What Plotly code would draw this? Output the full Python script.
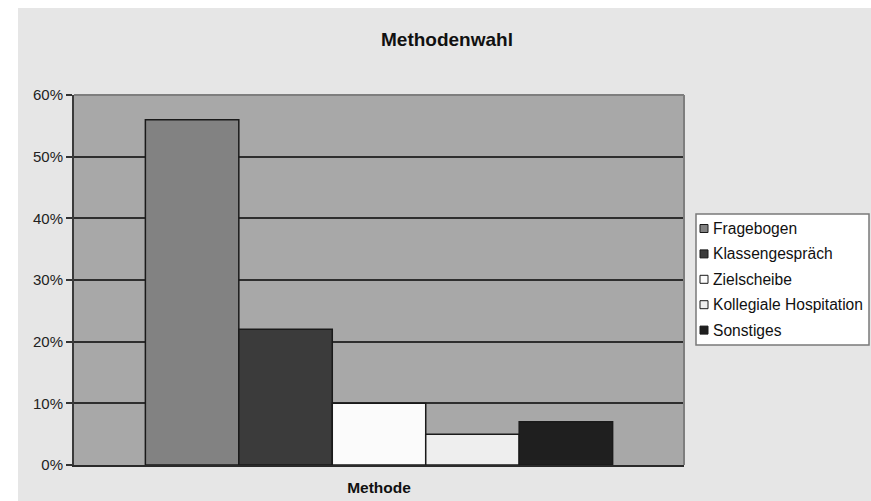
import plotly.graph_objects as go

# ---- data ----
categories = ["Fragebogen", "Klassengespräch", "Zielscheibe", "Kollegiale Hospitation", "Sonstiges"]
values = [56, 22, 10, 5, 7]          # percent
group_label = ["Methode"]
colors = ["#828282", "#3b3b3b", "#fbfbfb", "#eeeeee", "#1f1f1f"]
y_ticks = [0, 10, 20, 30, 40, 50, 60]
y_tick_labels = [f"{v}%" for v in y_ticks]

# ---- layout geometry (pixels) ----
W, H = 871, 501
L, R, T, B = 74, 187, 95, 36
PW, PH = W - L - R, H - T - B

def px_x(px):
    return (px - L) / PW

def px_y(py):
    return (H - B - py) / PH

fig = go.Figure()
for name, val, col in zip(categories, values, colors):
    fig.add_trace(go.Bar(
        x=group_label, y=[val], name=name,
        marker=dict(color=col, line=dict(color="#1a1a1a", width=1.5)),
        showlegend=False,
        hovertemplate=name + ": %{y}%<extra></extra>",
    ))

shapes = [
    # white strips at the top and left edge of the picture
    dict(type="rect", xref="paper", yref="paper", x0=px_x(0), x1=px_x(18), y0=px_y(H), y1=px_y(0),
         fillcolor="white", line=dict(width=0), layer="above"),
    dict(type="rect", xref="paper", yref="paper", x0=px_x(0), x1=px_x(W), y0=px_y(8), y1=px_y(0),
         fillcolor="white", line=dict(width=0), layer="above"),
    # top and right plot border
    dict(type="line", xref="paper", yref="paper", x0=0, x1=1, y0=1, y1=1,
         line=dict(color="#7e7e7e", width=2), layer="above"),
    dict(type="line", xref="paper", yref="paper", x0=1, x1=1, y0=0, y1=1,
         line=dict(color="#7e7e7e", width=2), layer="above"),
    # legend box
    dict(type="rect", xref="paper", yref="paper", x0=px_x(696), x1=px_x(869), y0=px_y(345), y1=px_y(214),
         fillcolor="white", line=dict(color="#7a7a7a", width=1.5), layer="above"),
]
annotations = []
row0, step = 228.5, 25.4
for i, (name, col) in enumerate(zip(categories, colors)):
    cy = row0 + i * step
    shapes.append(dict(type="rect", xref="paper", yref="paper",
                       x0=px_x(700), x1=px_x(708), y0=px_y(cy + 4), y1=px_y(cy - 4),
                       fillcolor=col, line=dict(color="#1a1a1a", width=1), layer="above"))
    annotations.append(dict(xref="paper", yref="paper", x=px_x(711), y=px_y(cy),
                            xanchor="left", yanchor="middle", showarrow=False, text=name,
                            font=dict(family="Liberation Sans", size=15.6, color="#111111")))

fig.update_layout(
    width=W, height=H,
    margin=dict(l=L, r=R, t=T, b=B, autoexpand=False),
    paper_bgcolor="#e6e6e6",
    plot_bgcolor="#a8a8a8",
    barmode="group",
    bargap=0.234,
    bargroupgap=0,
    title=dict(text="<b>Methodenwahl</b>", xref="paper", x=px_x(447), xanchor="center",
               yref="container", y=1 - 39 / H, yanchor="middle",
               font=dict(family="Liberation Sans", size=19, color="#111111")),
    xaxis=dict(showticklabels=False, ticks="", showgrid=False, zeroline=False,
               showline=True, linecolor="#2a2a2a", linewidth=2,
               title=dict(text="<b>Methode</b>", standoff=16,
                          font=dict(family="Liberation Sans", size=15.5, color="#111111"))),
    yaxis=dict(range=[0, 60], tickmode="array", tickvals=y_ticks, ticktext=y_tick_labels,
               showgrid=True, gridcolor="#2e2e2e", gridwidth=2, zeroline=False,
               showline=True, linecolor="#3a3a3a", linewidth=2,
               ticks="outside", ticklen=6, tickwidth=1.5, tickcolor="#333333",
               tickfont=dict(family="Liberation Sans", size=15, color="#222222")),
    shapes=shapes,
    annotations=annotations,
    hovermode="closest",
)

fig.write_html("out.html")
